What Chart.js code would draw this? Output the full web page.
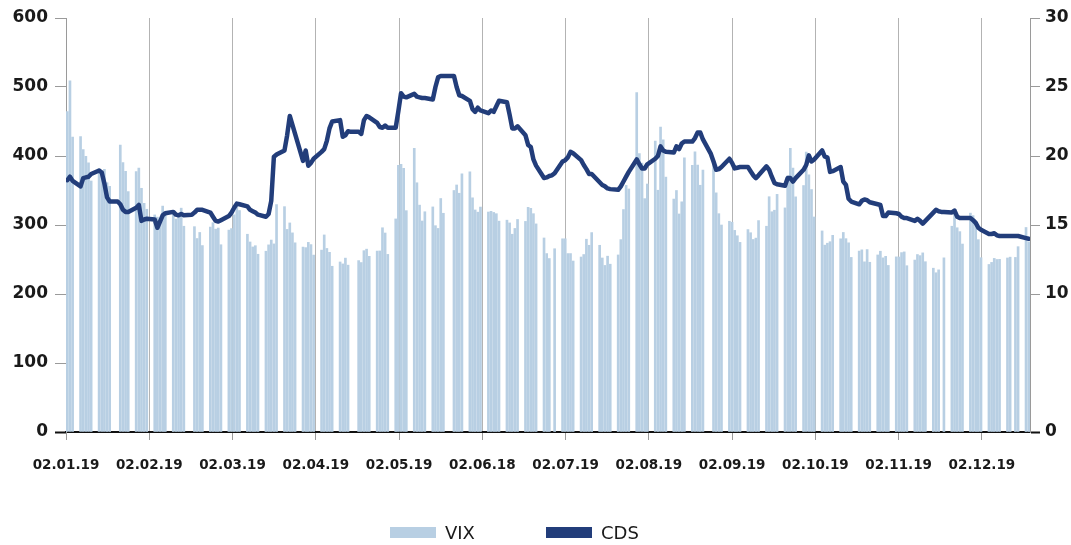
<!DOCTYPE html>
<html><head><meta charset="utf-8">
<script src="https://cdn.jsdelivr.net/npm/chart.js@4.4.1/dist/chart.umd.min.js"></script>
<style>
html,body{margin:0;padding:0;background:#fff;}
#wrap{position:relative;width:1071px;height:545px;overflow:hidden;}
canvas{position:absolute;left:0;top:0;}
.lg{position:absolute;top:521px;height:22px;display:flex;align-items:center;font-family:"DejaVu Sans";font-size:18px;color:#1a1a1a;}
.sw{display:inline-block;width:46px;height:11px;margin-right:9px;}
</style></head><body>
<div id="wrap"><canvas id="c" width="1071" height="545"></canvas>
<div class="lg" style="left:390px"><span class="sw" style="background:#b8cfe3"></span>VIX</div>
<div class="lg" style="left:546px"><span class="sw" style="background:#223d7a"></span>CDS</div>
</div>
<script>
// Tick labels (as printed in the original, including its typo)
const xLabels = ['02.01.19','02.02.19','02.03.19','02.04.19','02.05.19','02.06.18','02.07.19','02.08.19','02.09.19','02.10.19','02.11.19','02.12.19'];
const leftTicks = [0,100,200,300,400,500,600];
const rightTicks = [0,10,15,20,25,30];

// VIX (right axis), one value per weekday, null on US market holidays
const vixJan = [23.22,25.45,21.38,21.40,20.47,19.98,19.50,18.19,19.07,18.60,19.04,18.06,17.80,null,20.80,19.52,18.89,17.42,18.87,19.13,17.66,16.57];
const vixFeb = [16.14,15.73,15.57,15.38,16.37,15.72,15.97,15.43,15.65,16.22,14.91,null,14.88,14.02,14.46,13.51,14.85,15.17,14.70,14.78];
const vixMar = [13.57,14.63,14.74,15.74,16.59,16.05,14.33,13.77,13.41,13.50,12.88,13.10,13.56,13.91,13.63,16.48,16.33,14.68,15.15,14.43,13.71];
const vixApr = [13.40,13.36,13.74,13.58,12.82,13.18,14.28,13.30,13.02,12.01,12.32,12.18,12.60,12.09,null,12.42,12.28,13.14,13.25,12.73,13.11,13.12];
const vixMay = [14.80,14.42,12.87,15.44,19.32,19.40,19.10,16.04,20.55,18.06,16.44,15.29,15.96,16.31,14.95,14.75,16.92,15.85,null,17.50,17.90,17.30,18.71];
const vixJun = [18.86,16.97,16.09,15.93,16.30,15.94,15.99,15.91,15.82,15.28,15.35,15.15,14.33,14.75,15.40,15.26,16.28,16.21,15.82,15.08];
const vixJul = [14.06,12.93,12.57,null,13.28,14.00,14.00,12.93,12.93,12.39,12.68,12.86,13.97,13.53,14.45,13.53,12.61,12.07,12.74,12.16,12.83,13.94,16.12];
const vixAug = [17.87,17.61,24.59,20.17,19.49,16.91,17.97,21.09,17.52,22.10,21.18,18.47,16.88,17.50,15.80,16.68,19.87,19.32,20.31,19.35,17.88,18.98];
const vixSep = [null,19.66,17.33,15.82,15.00,15.27,15.20,14.61,14.22,13.74,14.67,14.44,13.95,14.05,15.32,14.91,17.05,15.96,16.07,17.22,16.24];
const vixOct = [18.56,20.56,19.12,17.04,17.86,20.28,18.64,17.57,15.58,14.57,13.54,13.68,13.79,14.25,14.00,14.46,14.01,13.71,12.65,13.11,13.20,12.33,13.22];
const vixNov = [12.30,12.83,13.10,12.62,12.73,12.07,12.69,12.68,13.00,13.05,12.05,12.46,12.86,12.78,12.98,12.34,11.87,11.54,11.75,null,12.62];
const vixDec = [14.91,15.96,14.80,14.52,13.62,15.86,15.68,14.99,13.94,12.63,12.14,12.29,12.58,12.50,12.51,12.61,12.67,null,12.65,13.43,14.82,13.78];

// CDS (left axis), one value per weekday
const cdsJan = [365,370,364,356,368,369,370,374,379,376,360,340,334,334,330,322,319,319,325,329,306,308];
const cdsFeb = [309,308,296,305,314,317,319,315,314,316,314,315,318,322,322,322,318,312,306,305];
const cdsMar = [307,313,318,325,331,330,327,322,320,318,315,312,316,335,399,402,408,430,458,445,432];
const cdsApr = [393,408,386,390,396,406,410,422,440,450,452,428,430,436,435,435,432,452,458,456,448,442];
const cdsMay = [441,444,441,441,465,491,486,485,490,486,485,484,484,482,500,514,516,516,516,516,500,488,487];
const cdsJun = [480,468,464,470,466,462,466,464,472,480,478,460,440,440,443,430,416,413,395,386];
const cdsJul = [368,369,371,372,375,392,394,398,406,404,394,387,381,374,374,362,358,356,353,352,351,356,363];
const cdsAug = [370,377,395,388,382,382,388,396,400,414,408,406,405,414,410,418,421,421,426,434,434,424];
const cdsSep = [403,392,380,381,384,396,390,382,383,384,384,378,372,368,372,385,380,370,361,359,357];
const cdsOct = [368,368,363,368,380,387,401,392,395,408,399,398,377,378,384,363,358,338,334,330,335,337,336];
const cdsNov = [333,330,329,313,313,318,317,316,312,310,310,306,309,306,302,306,318,322,320,319,319];
const cdsDec = [318,321,312,310,310,310,307,303,296,293,287,287,288,285,284,284,284,284,284,284,281,280];

const vix = [].concat(vixJan,vixFeb,vixMar,vixApr,vixMay,vixJun,vixJul,vixAug,vixSep,vixOct,vixNov,vixDec);
const cds = [].concat(cdsJan,cdsFeb,cdsMar,cdsApr,cdsMay,cdsJun,cdsJul,cdsAug,cdsSep,cdsOct,cdsNov,cdsDec);

// Weekday positions (days since 02.01.2019)
const startUTC = Date.UTC(2019,0,2);
const dayIdx = [];
for (let d = 0; d < 364; d++) {
  const wd = new Date(startUTC + d*86400000).getUTCDay();
  if (wd !== 0 && wd !== 6) dayIdx.push(d);
}
const monthStep = 31.44; // spacing of the evenly placed month labels (in days)

const FONT = 'DejaVu Sans';
const txt = '#1a1a1a';

new Chart(document.getElementById('c'), {
  type: 'bar',
  data: {
    datasets: [
      { type: 'bar', label: 'VIX', yAxisID: 'y2', order: 2,
        data: dayIdx.map((d,i) => ({x: d, y: vix[i]})),
        backgroundColor: '#b8cfe3', barThickness: 2 },
      { type: 'line', label: 'CDS', yAxisID: 'y', order: 1,
        data: dayIdx.map((d,i) => ({x: d, y: cds[i]})),
        borderColor: '#223d7a', borderWidth: 4.5, pointRadius: 0, tension: 0,
        borderJoinStyle: 'round', borderCapStyle: 'round', fill: false }
    ]
  },
  options: {
    responsive: false, animation: false, devicePixelRatio: 1,
    layout: { padding: { top: 18, left: 0, right: 0, bottom: 0 } },
    plugins: { legend: { display: false }, tooltip: { enabled: false } },
    scales: {
      x: {
        type: 'linear', min: -0.5, max: 363.5, offset: false,
        afterBuildTicks: s => { s.ticks = xLabels.map((l,i) => ({ value: -0.5 + i*monthStep })); },
        afterFit: s => { s.height = 113; },
        grid: { offset: false, color: '#b3b3b3', lineWidth: 1, drawTicks: true, tickLength: 8, tickColor: '#9a9a9a' },
        border: { color: '#111', width: 2 },
        ticks: { autoSkip: false, maxRotation: 0, minRotation: 0, padding: 17, color: txt,
          font: { family: FONT, weight: 'bold', size: 13.5 },
          callback: (v, i) => xLabels[i] }
      },
      y: {
        position: 'left', min: 0, max: 600,
        afterBuildTicks: s => { s.ticks = leftTicks.map(v => ({ value: v })); },
        afterFit: s => { s.width = 66; },
        grid: { drawOnChartArea: false, drawTicks: true, tickLength: 11,
          tickColor: c => (c.tick && c.tick.value === 0) ? '#111' : '#9a9a9a',
          tickWidth: c => (c.tick && c.tick.value === 0) ? 2 : 1 },
        border: { color: '#9a9a9a', width: 1 },
        ticks: { padding: 7, color: txt, font: { family: FONT, weight: 'bold', size: 17 } }
      },
      y2: {
        position: 'right', min: 0, max: 30,
        afterBuildTicks: s => { s.ticks = rightTicks.map(v => ({ value: v })); },
        afterFit: s => { s.width = 41; },
        grid: { drawOnChartArea: false, drawTicks: true, tickLength: 10,
          tickColor: c => (c.tick && c.tick.value === 0) ? '#111' : '#9a9a9a',
          tickWidth: c => (c.tick && c.tick.value === 0) ? 2 : 1 },
        border: { color: '#9a9a9a', width: 1 },
        ticks: { padding: 5, color: txt, font: { family: FONT, weight: 'bold', size: 17 } }
      }
    }
  }
});
</script>
</body></html>
